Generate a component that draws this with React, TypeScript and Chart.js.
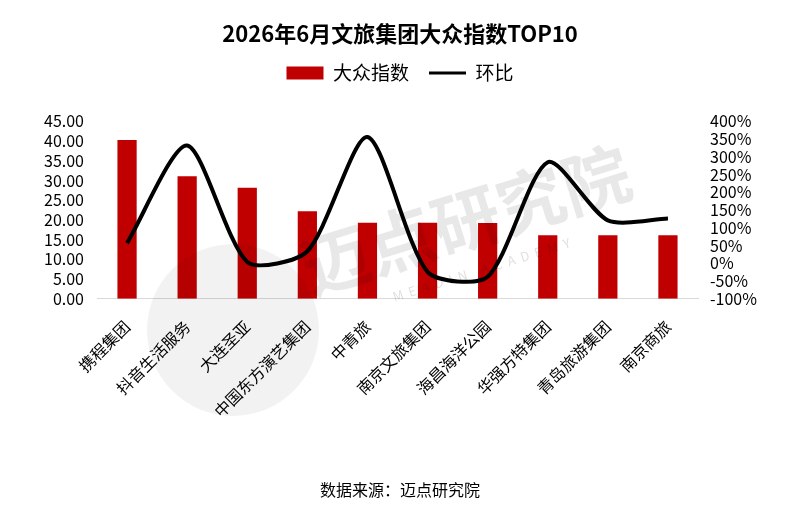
import React, { useEffect, useRef } from 'react';
import { Chart, registerables } from 'chart.js';

Chart.register(...registerables);

const categories = ['携程集团', '抖音生活服务', '大连圣亚', '中国东方演艺集团', '中青旅', '南京文旅集团', '海昌海洋公园', '华强方特集团', '青岛旅游集团', '南京商旅'];
const indexValues = [40.3, 31.1, 28.2, 22.2, 19.3, 19.3, 19.2, 16.1, 16.1, 16.1];
const momValues = [57, 332, 4, 34, 356, -24, -38, 285, 121, 126];
const leftTicks = { min: 0, max: 45, step: 5 };
const rightTicks = { min: -100, max: 400, step: 50 };

const FONT = '"Noto Sans CJK SC", "Open Sans", sans-serif';

const legendSpacer = {
  id: 'legendSpacer',
  beforeLayout(chart: any) {
    const lg = chart.legend;
    if (lg && !lg._patched) {
      const orig = lg.fit.bind(lg);
      lg.fit = () => { orig(); lg.height += 29; };
      lg._patched = true;
    }
  },
};

const watermark = {
  id: 'watermark',
  afterDatasetsDraw(chart: any) {
    const ctx = chart.ctx;
    ctx.save();
    ctx.fillStyle = 'rgba(0,0,0,0.05)';
    ctx.beginPath();
    ctx.arc(233, 330, 86, 0, Math.PI * 2);
    ctx.fill();
    ctx.translate(466, 220);
    ctx.rotate(-0.3);
    ctx.fillStyle = 'rgba(0,0,0,0.09)';
    ctx.font = `bold 68px ${FONT}`;
    ctx.textAlign = 'center';
    ctx.textBaseline = 'middle';
    ctx.fillText('迈点研究院', 0, 0);
    ctx.font = `13px ${FONT}`;
    ctx.fillStyle = 'rgba(0,0,0,0.13)';
    ctx.fillText('M  E  A  D  I  N     A  C  A  D  E  M  Y', 0, 52);
    ctx.restore();
  },
};

export default function App() {
  const ref = useRef<HTMLCanvasElement>(null);
  useEffect(() => {
    if (!ref.current) return;
    const chart = new Chart(ref.current, {
      type: 'bar',
      data: {
        labels: categories,
        datasets: [
          {
            type: 'bar',
            label: '大众指数',
            data: indexValues,
            backgroundColor: '#C00000',
            yAxisID: 'y',
            categoryPercentage: 0.8,
            barPercentage: 0.4,
            order: 2,
          },
          {
            type: 'line',
            label: '环比',
            data: momValues,
            borderColor: '#000000',
            backgroundColor: '#000000',
            borderWidth: 4,
            pointRadius: 0,
            tension: 0.25,
            yAxisID: 'y1',
            order: 1,
          } as any,
        ],
      },
      options: {
        responsive: false,
        animation: false,
        layout: { padding: 0 },
        plugins: {
          tooltip: { enabled: false },
          title: {
            display: true,
            text: '2026年6月文旅集团大众指数TOP10',
            color: '#000',
            font: { size: 22, weight: 'bold', family: FONT },
            padding: { top: 20, bottom: -3 },
          },
          subtitle: {
            display: true,
            position: 'bottom',
            text: '数据来源：迈点研究院',
            color: '#000',
            font: { size: 16, family: FONT },
            padding: { top: 0, bottom: 7 },
          },
          legend: {
            display: true,
            position: 'top',
            labels: {
              color: '#000',
              font: { size: 19, family: FONT },
              usePointStyle: true,
              pointStyleWidth: 37,
              boxWidth: 37,
              boxHeight: 13,
              padding: 20,
              generateLabels: () => [
                { text: '大众指数', fillStyle: '#C00000', strokeStyle: '#C00000', lineWidth: 0, pointStyle: 'rect', datasetIndex: 0, hidden: false, fontColor: '#000' },
                { text: '环比', fillStyle: '#000', strokeStyle: '#000', lineWidth: 3, pointStyle: 'line', datasetIndex: 1, hidden: false, fontColor: '#000' },
              ] as any,
            },
          },
        },
        scales: {
          x: {
            grid: { display: false, drawTicks: false },
            border: { display: true, color: '#d9d9d9', width: 1 },
            ticks: {
              color: '#000',
              font: { size: 16, family: FONT },
              maxRotation: 45,
              minRotation: 45,
              autoSkip: false,
              padding: 18,
            },
            afterFit: (s: any) => { s.height = 182; },
          },
          y: {
            position: 'left',
            min: leftTicks.min,
            max: leftTicks.max,
            grid: { display: false, drawTicks: false },
            border: { display: false },
            ticks: {
              stepSize: leftTicks.step,
              autoSkip: false,
              color: '#000',
              font: { size: 16, family: FONT },
              padding: 13,
              callback: (v: any) => Number(v).toFixed(2),
            },
            afterFit: (s: any) => { s.width = 97; },
          },
          y1: {
            position: 'right',
            min: rightTicks.min,
            max: rightTicks.max,
            grid: { display: false, drawTicks: false },
            border: { display: false },
            ticks: {
              stepSize: rightTicks.step,
              autoSkip: false,
              color: '#000',
              font: { size: 16, family: FONT },
              padding: 12,
              callback: (v: any) => `${v}%`,
            },
            afterFit: (s: any) => { s.width = 102; },
          },
        },
      },
      plugins: [legendSpacer, watermark],
    });
    return () => chart.destroy();
  }, []);
  return (
    <div style={{ position: 'fixed', left: 0, top: 0, width: 800, height: 507, background: '#fff' }}>
      <canvas ref={ref} width={800} height={507} style={{ width: 800, height: 507 }} />
    </div>
  );
}
